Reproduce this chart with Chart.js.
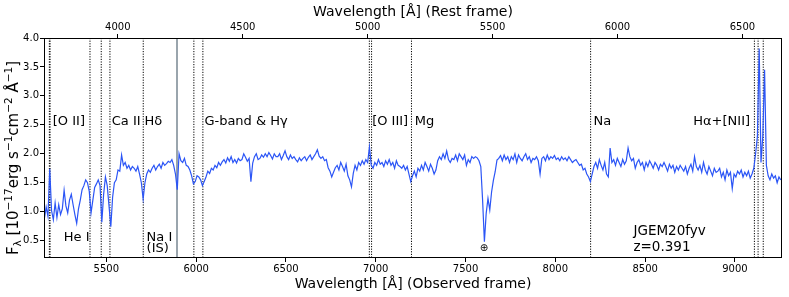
<!DOCTYPE html>
<html>
<head>
<meta charset="utf-8">
<script src="https://cdn.jsdelivr.net/npm/chart.js"></script>
<style>
  html, body { margin: 0; padding: 0; background: #fff; }
  canvas { display: block; }
</style>
</head>
<body>
<canvas id="spec" width="789" height="297"></canvas>
<script>
// JGEM20fyv spectrum, values
const redshift = 0.391;

const wave = [
  5155, 5165, 5175, 5185, 5195, 5205, 5215, 5225, 5235, 5245,
  5255, 5265, 5275, 5285, 5295, 5305, 5315, 5325, 5335, 5345,
  5355, 5365, 5375, 5385, 5395, 5405, 5415, 5425, 5435, 5445,
  5455, 5465, 5475, 5485, 5495, 5505, 5515, 5525, 5535, 5545,
  5555, 5565, 5575, 5585, 5595, 5605, 5615, 5625, 5635, 5645,
  5655, 5665, 5675, 5685, 5695, 5705, 5715, 5725, 5735, 5745,
  5755, 5765, 5775, 5785, 5795, 5805, 5815, 5825, 5835, 5845,
  5855, 5865, 5875, 5885, 5895, 5905, 5915, 5925, 5935, 5945,
  5955, 5965, 5975, 5985, 5995, 6005, 6015, 6025, 6035, 6045,
  6055, 6065, 6075, 6085, 6095, 6105, 6115, 6125, 6135, 6145,
  6155, 6165, 6175, 6185, 6195, 6205, 6215, 6225, 6235, 6245,
  6255, 6265, 6275, 6285, 6295, 6305, 6315, 6325, 6335, 6345,
  6355, 6365, 6375, 6385, 6395, 6405, 6415, 6425, 6435, 6445,
  6455, 6465, 6475, 6485, 6495, 6505, 6515, 6525, 6535, 6545,
  6555, 6565, 6575, 6585, 6595, 6605, 6615, 6625, 6635, 6645,
  6655, 6665, 6675, 6685, 6695, 6705, 6715, 6725, 6735, 6745,
  6755, 6765, 6775, 6785, 6795, 6805, 6815, 6825, 6835, 6845,
  6855, 6865, 6875, 6885, 6895, 6905, 6915, 6925, 6935, 6945,
  6955, 6965, 6975, 6985, 6995, 7005, 7015, 7025, 7035, 7045,
  7055, 7065, 7075, 7085, 7095, 7105, 7115, 7125, 7135, 7145,
  7155, 7165, 7175, 7185, 7195, 7205, 7215, 7225, 7235, 7245,
  7255, 7265, 7275, 7285, 7295, 7305, 7315, 7325, 7335, 7345,
  7355, 7365, 7375, 7385, 7395, 7405, 7415, 7425, 7435, 7445,
  7455, 7465, 7475, 7485, 7495, 7505, 7515, 7525, 7535, 7545,
  7555, 7565, 7575, 7585, 7595, 7605, 7615, 7625, 7635, 7645,
  7655, 7665, 7675, 7685, 7695, 7705, 7715, 7725, 7735, 7745,
  7755, 7765, 7775, 7785, 7795, 7805, 7815, 7825, 7835, 7845,
  7855, 7865, 7875, 7885, 7895, 7905, 7915, 7925, 7935, 7945,
  7955, 7965, 7975, 7985, 7995, 8005, 8015, 8025, 8035, 8045,
  8055, 8065, 8075, 8085, 8095, 8105, 8115, 8125, 8135, 8145,
  8155, 8165, 8175, 8185, 8195, 8205, 8215, 8225, 8235, 8245,
  8255, 8265, 8275, 8285, 8295, 8305, 8315, 8325, 8335, 8345,
  8355, 8365, 8375, 8385, 8395, 8405, 8415, 8425, 8435, 8445,
  8455, 8465, 8475, 8485, 8495, 8505, 8515, 8525, 8535, 8545,
  8555, 8565, 8575, 8585, 8595, 8605, 8615, 8625, 8635, 8645,
  8655, 8665, 8675, 8685, 8695, 8705, 8715, 8725, 8735, 8745,
  8755, 8765, 8775, 8785, 8795, 8805, 8815, 8825, 8835, 8845,
  8855, 8865, 8875, 8885, 8895, 8905, 8915, 8925, 8935, 8945,
  8955, 8965, 8975, 8985, 8995, 9005, 9015, 9025, 9035, 9045,
  9055, 9065, 9075, 9085, 9095, 9105, 9115, 9125, 9135, 9145,
  9155, 9165, 9175, 9185, 9195, 9205, 9215, 9225, 9235, 9245,
  9255
];

const flux = [
  0.88, 1.08, 0.92, 1.74, 1.02, 0.86, 1.15, 0.90, 1.12, 0.95,
  1.05, 1.37, 1.10, 0.98, 1.20, 1.30, 1.12, 0.95, 0.80, 1.05,
  1.20, 1.38, 1.45, 1.55, 1.50, 1.35, 0.98, 1.20, 1.42, 1.48,
  1.55, 1.45, 0.82, 1.30, 1.60, 1.45, 1.10, 0.74, 1.25, 1.50,
  1.55, 1.72, 1.70, 1.98, 1.80, 1.85, 1.75, 1.80, 1.72, 1.78,
  1.75, 1.70, 1.78, 1.65, 1.50, 1.22, 1.50, 1.65, 1.72, 1.68,
  1.75, 1.80, 1.72, 1.78, 1.82, 1.75, 1.85, 1.80, 1.83, 1.87,
  1.85, 1.90, 1.80, 1.65, 1.38, 2.00, 1.88, 1.85, 1.92, 1.80,
  1.78, 1.72, 1.62, 1.48, 1.52, 1.62, 1.60, 1.55, 1.45, 1.52,
  1.60, 1.70, 1.66, 1.75, 1.72, 1.80, 1.76, 1.85, 1.80, 1.86,
  1.90, 1.84, 1.93, 1.87, 1.95, 1.85, 1.90, 1.84, 1.92, 1.88,
  1.90, 2.00, 1.94, 1.87, 1.92, 1.52, 1.84, 1.95, 2.00, 1.90,
  1.92, 1.98, 1.94, 2.00, 1.95, 2.02, 1.97, 1.91, 2.00, 1.95,
  1.95, 2.00, 1.90, 1.97, 2.05, 1.95, 1.90, 1.98, 1.92, 1.95,
  1.90, 1.86, 1.93, 1.88, 1.92, 1.95, 1.88, 1.94, 1.98, 1.90,
  1.95, 2.00, 2.07, 1.96, 1.92, 1.95, 1.88, 1.90, 1.76, 1.70,
  1.60, 1.68, 1.76, 1.80, 1.72, 1.85, 1.78, 1.70, 1.82, 1.62,
  1.55, 1.43, 1.66, 1.80, 1.72, 1.85, 1.80, 1.88, 1.82, 1.90,
  1.85, 2.12, 1.80, 1.75, 1.85, 1.80, 1.90, 1.82, 1.85, 1.78,
  1.88, 1.82, 1.90, 1.80, 1.85, 1.75, 1.88, 1.80, 1.78, 1.75,
  1.80, 1.72, 1.78, 1.65, 1.52, 1.62, 1.70, 1.60, 1.75, 1.70,
  1.80, 1.72, 1.85, 1.78, 1.70, 1.82, 1.75, 1.65, 1.72, 1.88,
  1.95, 1.90, 2.00, 1.92, 2.05, 1.90, 1.85, 1.92, 1.90, 1.98,
  1.88, 2.00, 1.95, 1.90, 1.98, 1.80, 1.90, 1.85, 1.95, 1.92,
  1.95, 1.93, 1.88, 1.78, 1.20, 0.48, 0.97, 1.23, 1.03, 1.34,
  1.54, 1.69, 1.89, 1.92, 1.97, 1.88, 1.98, 1.90, 1.95, 1.85,
  1.95, 1.90, 2.00, 1.85, 1.98, 1.92, 1.88, 1.95, 2.00, 1.90,
  1.95, 1.85, 1.92, 1.90, 1.95, 1.88, 1.65, 1.92, 1.95, 1.88,
  1.98, 1.90, 1.95, 1.92, 1.97, 1.90, 1.93, 1.88, 1.95, 1.90,
  1.93, 1.88, 1.95, 1.90, 1.85, 1.88, 1.90, 1.85, 1.80, 1.82,
  1.72, 1.75, 1.65, 1.60, 1.52, 1.65, 1.78, 1.85, 1.75, 1.90,
  1.80, 1.72, 1.85, 1.65, 1.60, 2.10, 1.85, 1.90, 1.80, 1.92,
  1.85, 1.78, 1.90, 1.82, 1.88, 2.10, 1.95, 1.88, 1.92, 1.75,
  1.85, 1.90, 1.80, 1.85, 1.72, 1.85, 1.78, 1.88, 1.82, 1.75,
  1.85, 1.80, 1.72, 1.82, 1.78, 1.85, 1.78, 1.70, 1.82, 1.75,
  1.80, 1.68, 1.78, 1.72, 1.80, 1.75, 1.70, 1.78, 1.65, 1.75,
  1.82, 1.70, 1.95, 1.78, 1.72, 1.80, 1.68, 1.85, 1.72, 1.65,
  1.78, 1.70, 1.62, 1.75, 1.68, 1.70, 1.75, 1.60, 1.68, 1.55,
  1.72, 1.62, 1.68, 1.40, 1.65, 1.60, 1.70, 1.65, 1.72, 1.60,
  1.68, 1.62, 1.70, 1.58, 1.65, 1.75, 2.00, 2.30, 3.82, 1.85,
  2.30, 3.45, 1.80, 1.62, 1.55, 1.65, 1.58, 1.62, 1.50, 1.60,
  1.55
];

// axis ticks
const obsTicks = [5500, 6000, 6500, 7000, 7500, 8000, 8500, 9000];
const restTicks = [4000, 4500, 5000, 5500, 6000, 6500];
const fluxTicks = [0.5, 1.0, 1.5, 2.0, 2.5, 3.0, 3.5, 4.0];

// rest-frame feature lines (dotted) and interstellar Na I (grey, observed frame)
const restLines = [3726.03, 3728.82, 3888.65, 3933.66, 3968.47, 4101.74, 4304.4, 4340.47,
  5006.84, 5015.68, 5175.4, 5892.5, 6548.05, 6562.8, 6583.45];
const isLines = [5889.95, 5895.92];

// text notes: [text, observed wavelength, flux, size]
const notes = [
  ['[O II]', 5202, 2.56, 13], ['Ca II', 5530, 2.56, 13], ['H\u03b4', 5713, 2.56, 13],
  ['G-band & H\u03b3', 6046, 2.56, 13], ['[O III]', 6980, 2.56, 13], ['Mg', 7217, 2.56, 13],
  ['Na', 8213, 2.56, 13], ['H\u03b1+[NII]', 8768, 2.56, 13],
  ['He I', 5263, 0.56, 13], ['Na I', 5724, 0.56, 13], ['(IS)', 5724, 0.36, 13],
  ['JGEM20fyv', 8435, 0.65, 13.5], ['z=0.391', 8435, 0.39, 13.5]
];

const xMin = 5153, xMax = 9262;
const FONT = '"DejaVu Sans", sans-serif';
Chart.defaults.font.family = FONT;
Chart.defaults.color = '#000';

function setTicks(list) {
  return s => { s.ticks = list.map(v => ({ value: v })); };
}

const tickGrid = { display: true, drawOnChartArea: false, drawTicks: true, tickLength: 4, color: '#000' };

const overlay = {
  id: 'overlay',
  beforeDatasetsDraw(chart) {
    const { ctx, chartArea: a, scales: { x } } = chart;
    ctx.save();
    ctx.beginPath();
    ctx.rect(a.left, a.top, a.right - a.left, a.bottom - a.top);
    ctx.clip();
    ctx.strokeStyle = 'rgba(120,135,145,0.75)';
    ctx.lineWidth = 1;
    isLines.forEach(w => {
      const px = Math.round(x.getPixelForValue(w)) + 0.5;
      ctx.beginPath(); ctx.moveTo(px, a.top); ctx.lineTo(px, a.bottom); ctx.stroke();
    });
    ctx.strokeStyle = '#000';
    ctx.setLineDash([1.2, 1.4]);
    restLines.forEach(w => {
      const px = x.getPixelForValue(w * (1 + redshift));
      ctx.beginPath(); ctx.moveTo(px, a.top); ctx.lineTo(px, a.bottom); ctx.stroke();
    });
    ctx.restore();
  },
  afterDraw(chart) {
    const { ctx, chartArea: a, scales: { x, y } } = chart;
    ctx.save();
    // frame
    ctx.strokeStyle = '#000';
    ctx.lineWidth = 1;
    ctx.strokeRect(a.left + 0.5, a.top + 0.5, a.right - a.left - 1, a.bottom - a.top - 1);
    // labels
    ctx.fillStyle = '#000';
    ctx.textBaseline = 'middle';
    ctx.textAlign = 'left';
    notes.forEach(([t, w, f, sz]) => {
      ctx.font = sz + 'px ' + FONT;
      ctx.fillText(t, x.getPixelForValue(w), y.getPixelForValue(f));
    });
    ctx.textAlign = 'center';
    ctx.font = '10px ' + FONT;
    ctx.fillText('\u2295', x.getPixelForValue(7602), y.getPixelForValue(0.36));
    // y axis title with sub/superscripts
    const big = '15px ' + FONT, small = '10.5px ' + FONT;
    const parts = [['F', 0, big], ['\u03bb', 4, small], [' [10', 0, big], ['\u221217', -5, small],
      ['erg', 0, big], [' s', 0, big], ['\u22121', -5, small], ['cm', 0, big], ['\u22122', -5, small],
      [' \u00c5', 0, big], ['\u22121', -5, small], [']', 0, big]];
    let total = 0;
    parts.forEach(p => { ctx.font = p[2]; total += ctx.measureText(p[0]).width; });
    ctx.translate(14, (a.top + a.bottom) / 2 + 10);
    ctx.rotate(-Math.PI / 2);
    ctx.textAlign = 'left';
    let cx = -total / 2;
    parts.forEach(p => {
      ctx.font = p[2];
      ctx.fillText(p[0], cx, p[1]);
      cx += ctx.measureText(p[0]).width;
    });
    ctx.restore();
  }
};

new Chart(document.getElementById('spec'), {
  type: 'line',
  data: {
    datasets: [{
      data: wave.map((w, i) => ({ x: w, y: flux[i] })),
      borderColor: '#2b55f6',
      borderWidth: 1.2,
      pointRadius: 0,
      tension: 0,
      fill: false,
      xAxisID: 'x',
      yAxisID: 'y'
    }]
  },
  options: {
    responsive: false,
    animation: false,
    devicePixelRatio: 1,
    layout: { padding: { left: 0, right: 7, top: 0, bottom: 0 } },
    plugins: { legend: { display: false }, tooltip: { enabled: false } },
    scales: {
      x: {
        type: 'linear', position: 'bottom', min: xMin, max: xMax,
        afterBuildTicks: setTicks(obsTicks),
        afterFit: s => { s.height = 39; },
        grid: tickGrid, border: { display: false },
        ticks: { font: { size: 10 }, padding: 1, maxRotation: 0, autoSkip: false, callback: v => String(v) },
        title: { display: true, text: 'Wavelength [\u00c5] (Observed frame)', font: { size: 14 }, padding: { top: 6 } }
      },
      xTop: {
        type: 'linear', position: 'top', min: xMin / (1 + redshift), max: xMax / (1 + redshift),
        afterBuildTicks: setTicks(restTicks),
        afterFit: s => { s.height = 38; },
        grid: tickGrid, border: { display: false },
        ticks: { font: { size: 10 }, padding: 1, maxRotation: 0, autoSkip: false, callback: v => String(v) },
        title: { display: true, text: 'Wavelength [\u00c5] (Rest frame)', font: { size: 14 }, padding: { top: 4 } }
      },
      y: {
        type: 'linear', position: 'left', min: 0.2, max: 4.0,
        afterBuildTicks: setTicks(fluxTicks),
        afterFit: s => { s.width = 44; },
        grid: tickGrid, border: { display: false },
        ticks: { font: { size: 10 }, padding: 1, callback: v => v.toFixed(1) }
      }
    }
  },
  plugins: [overlay]
});
</script>
</body>
</html>
